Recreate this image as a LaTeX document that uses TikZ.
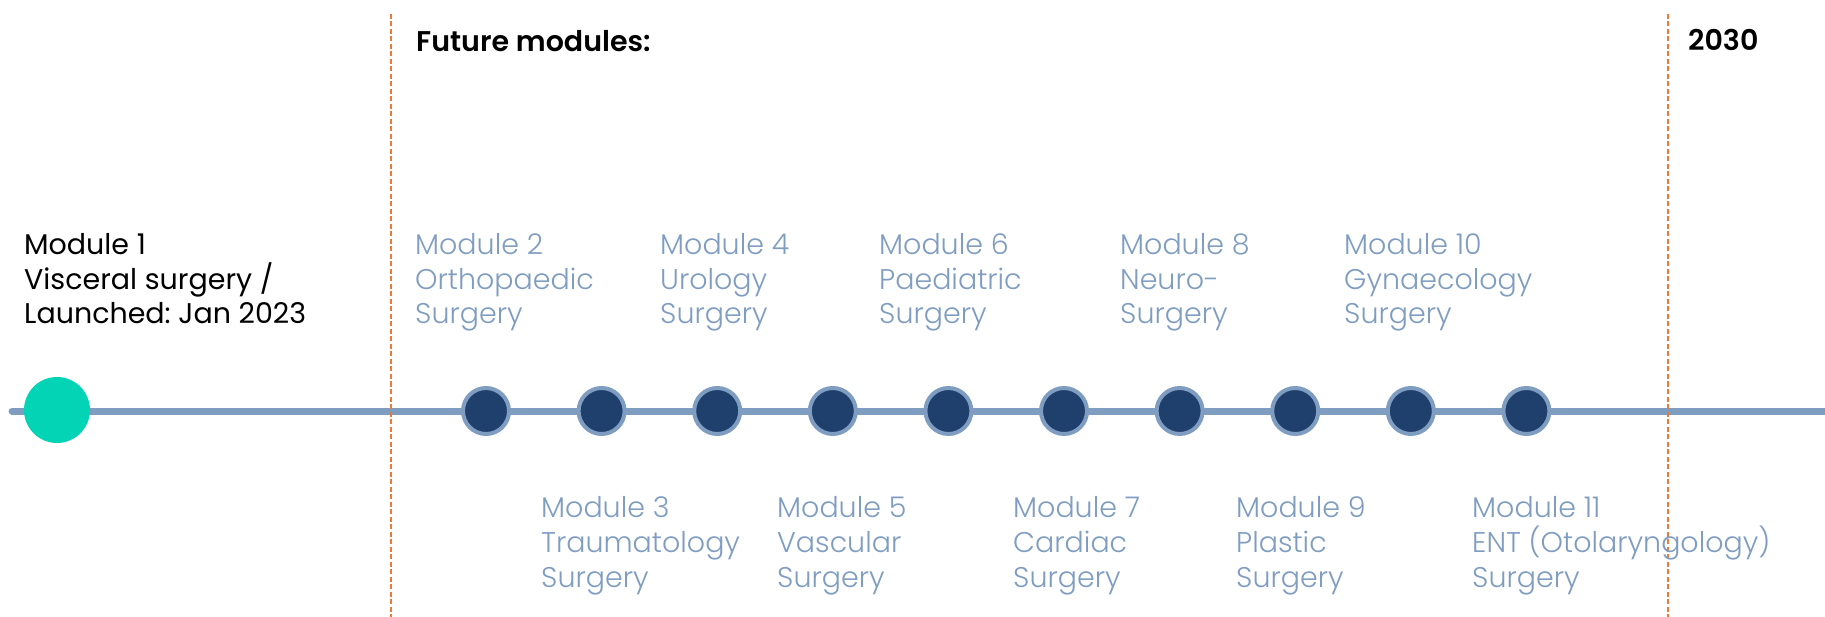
\documentclass[tikz,border=0pt]{standalone}
\usepackage{fontspec}
\setmainfont{Poppins}
\newfontfamily\poplight{Poppins Light}
\newfontfamily\popsemi{Poppins SemiBold}
\usetikzlibrary{positioning}
\frenchspacing

\definecolor{navy}{HTML}{1F406C}
\definecolor{steel}{HTML}{7F9DC1}
\definecolor{mint}{HTML}{03D4B6}
\definecolor{tangerine}{HTML}{EE7836}

\tikzset{
  done/.style={circle,fill=mint,minimum size=66pt,inner sep=0pt},
  planned/.style={circle,draw=steel,line width=4pt,fill=navy,minimum size=46pt,inner sep=0pt},
  modlabel/.style={anchor=base west,inner sep=0pt,align=left,text=steel,
    font=\poplight\fontsize{28.5pt}{34.7pt}\selectfont},
  firstlabel/.style={anchor=base west,inner sep=0pt,align=left,text=black,
    font=\fontsize{28.5pt}{34.7pt}\selectfont},
  heading/.style={anchor=base west,inner sep=0pt,font=\popsemi\fontsize{28.5pt}{34.7pt}\selectfont},
  divider/.style={draw=tangerine,line width=2.5pt,dash pattern=on 5pt off 2.5pt},
  timeline/.style={draw=steel,line width=7pt,line cap=round}
}

\begin{document}
\begin{tikzpicture}[x=1pt,y=-1pt]
\useasboundingbox (0,0) rectangle (1825,617);

% time axis
\coordinate (start) at (12,411);
\coordinate (end)   at (1825,411);
\path[timeline] (start) -- (end);

% separators
\coordinate (sep1top) at (391,14);
\coordinate (sep1bot) at (391,617);
\coordinate (sep2top) at (1668,14);
\coordinate (sep2bot) at (1668,617);
\path[divider] (sep1top) -- (sep1bot);
\path[divider] (sep2top) -- (sep2bot);

\node[heading] (future) at (416,52) {Future modules:};
\node[heading] (year)   at (1688,51) {2030};

% launched module (label placed by its last baseline)
\node[done] (m1) at (57,410) {};
\node[firstlabel] (l1) at (24,324) {Module 1\\Visceral surgery /\\Launched: Jan 2023};

% future modules
\foreach \i [count=\k from 2] in {0,...,9}
  \node[planned] (m\k) at (486+115.6*\i,411) {};

\node[modlabel] (l2)  at (415,324)  {Module 2\\Orthopaedic\\Surgery};
\node[modlabel] (l3)  at (541,587)  {Module 3\\Traumatology\\Surgery};
\node[modlabel] (l4)  at (660,324)  {Module 4\\Urology\\Surgery};
\node[modlabel] (l5)  at (777,587)  {Module 5\\Vascular\\Surgery};
\node[modlabel] (l6)  at (879,324)  {Module 6\\Paediatric\\Surgery};
\node[modlabel] (l7)  at (1013,587) {Module 7\\Cardiac\\Surgery};
\node[modlabel] (l8)  at (1120,324) {Module 8\\Neuro-\\Surgery};
\node[modlabel] (l9)  at (1236,587) {Module 9\\Plastic\\Surgery};
\node[modlabel] (l10) at (1344,324) {Module 10\\Gynaecology\\Surgery};
\node[modlabel] (l11) at (1472,587) {Module 11\\ENT (Otolaryngology)\\Surgery};
\end{tikzpicture}
\end{document}
